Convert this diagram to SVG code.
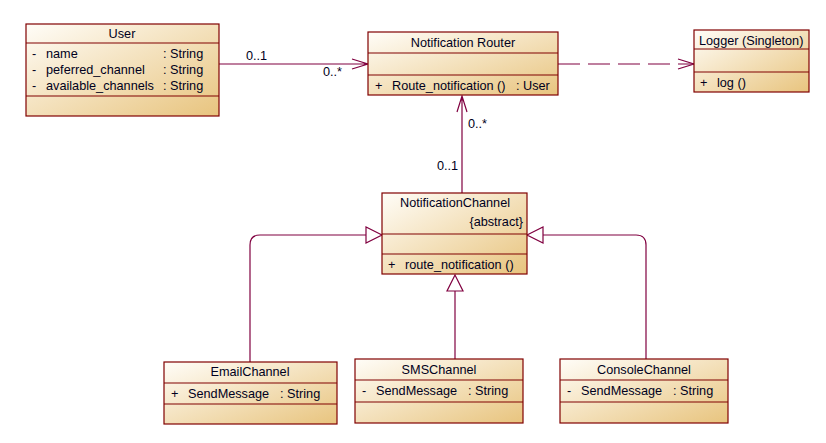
<svg xmlns="http://www.w3.org/2000/svg" width="826" height="443" viewBox="0 0 826 443">
<defs>
<linearGradient id="fill" x1="0" y1="0" x2="1" y2="1">
<stop offset="0" stop-color="#fffdf8"/>
<stop offset="1" stop-color="#e8c47e"/>
</linearGradient>
<style>
.box{fill:url(#fill);stroke:#800000;stroke-width:1.2}
.sep{stroke:#800000;stroke-width:1.2}
text{font-family:"Liberation Sans",Arial,sans-serif;font-size:12.7px;fill:#000020}
.c{text-anchor:middle}
.r{text-anchor:end}
.ln{fill:none;stroke:#800040;stroke-width:1.2}
.tri{fill:#ffffff;stroke:#800040;stroke-width:1.2}
</style>
</defs>
<rect width="826" height="443" fill="#ffffff"/>
<g id="connectors">
<path class="ln" d="M219,64 H368 M352,59 L368,64 L352,69"/>
<path class="ln" d="M558,64 H694" stroke-dasharray="22,8"/>
<path class="ln" d="M678,59 L694,64 L678,69"/>
<path class="ln" d="M462,193 V96 M457,112 L462,96 L467,112"/>
<path class="ln" d="M250,362 V245 Q250,235 260,235 H366"/>
<polygon class="tri" points="382,235 366,227 366,243"/>
<path class="ln" d="M455,359 V291"/>
<polygon class="tri" points="455,275 447,291 463,291"/>
<path class="ln" d="M646,359 V245 Q646,235 636,235 H543"/>
<polygon class="tri" points="527,235 543,227 543,243"/>
<text x="246" y="60">0..1</text>
<text x="323" y="76">0..*</text>
<text x="468" y="128">0..*</text>
<text x="437" y="170">0..1</text>
</g>
<g id="user">
<rect class="box" x="26" y="24" width="193" height="92"/>
<line class="sep" x1="26" y1="43" x2="219" y2="43"/>
<line class="sep" x1="26" y1="96" x2="219" y2="96"/>
<text class="c" x="122" y="38">User</text>
<text x="32" y="58">-</text><text x="46" y="58">name</text><text x="163" y="58">: String</text>
<text x="32" y="74">-</text><text x="46" y="74">peferred_channel</text><text x="163" y="74">: String</text>
<text x="32" y="90">-</text><text x="46" y="90">available_channels</text><text x="163" y="90">: String</text>
</g>
<g id="router">
<rect class="box" x="368" y="32" width="190" height="63"/>
<line class="sep" x1="368" y1="53" x2="558" y2="53"/>
<line class="sep" x1="368" y1="75" x2="558" y2="75"/>
<text class="c" x="463" y="47">Notification Router</text>
<text x="375" y="90">+</text><text x="392" y="90">Route_notification ()</text><text x="516" y="90">: User</text>
</g>
<g id="logger">
<rect class="box" x="694" y="30" width="115" height="62"/>
<line class="sep" x1="694" y1="49" x2="809" y2="49"/>
<line class="sep" x1="694" y1="72" x2="809" y2="72"/>
<text x="699" y="45">Logger (Singleton)</text>
<text x="700" y="87">+</text><text x="717" y="87">log ()</text>
</g>
<g id="channel">
<rect class="box" x="382" y="193" width="145" height="81"/>
<line class="sep" x1="382" y1="234" x2="527" y2="234"/>
<line class="sep" x1="382" y1="254" x2="527" y2="254"/>
<text class="c" x="455" y="207">NotificationChannel</text>
<text class="r" x="523" y="226">{abstract}</text>
<text x="388" y="269">+</text><text x="405" y="269">route_notification ()</text>
</g>
<g id="email">
<rect class="box" x="164" y="362" width="173" height="62"/>
<line class="sep" x1="164" y1="383" x2="337" y2="383"/>
<line class="sep" x1="164" y1="404" x2="337" y2="404"/>
<text class="c" x="250" y="376">EmailChannel</text>
<text x="171" y="398">+</text><text x="188" y="398">SendMessage</text><text x="280" y="398">: String</text>
</g>
<g id="sms">
<rect class="box" x="355" y="359" width="168" height="64"/>
<line class="sep" x1="355" y1="380" x2="523" y2="380"/>
<line class="sep" x1="355" y1="402" x2="523" y2="402"/>
<text class="c" x="439" y="374">SMSChannel</text>
<text x="362" y="395">-</text><text x="376" y="395">SendMessage</text><text x="468" y="395">: String</text>
</g>
<g id="console">
<rect class="box" x="560" y="359" width="168" height="64"/>
<line class="sep" x1="560" y1="380" x2="728" y2="380"/>
<line class="sep" x1="560" y1="402" x2="728" y2="402"/>
<text class="c" x="644" y="374">ConsoleChannel</text>
<text x="567" y="395">-</text><text x="581" y="395">SendMessage</text><text x="673" y="395">: String</text>
</g>
</svg>
